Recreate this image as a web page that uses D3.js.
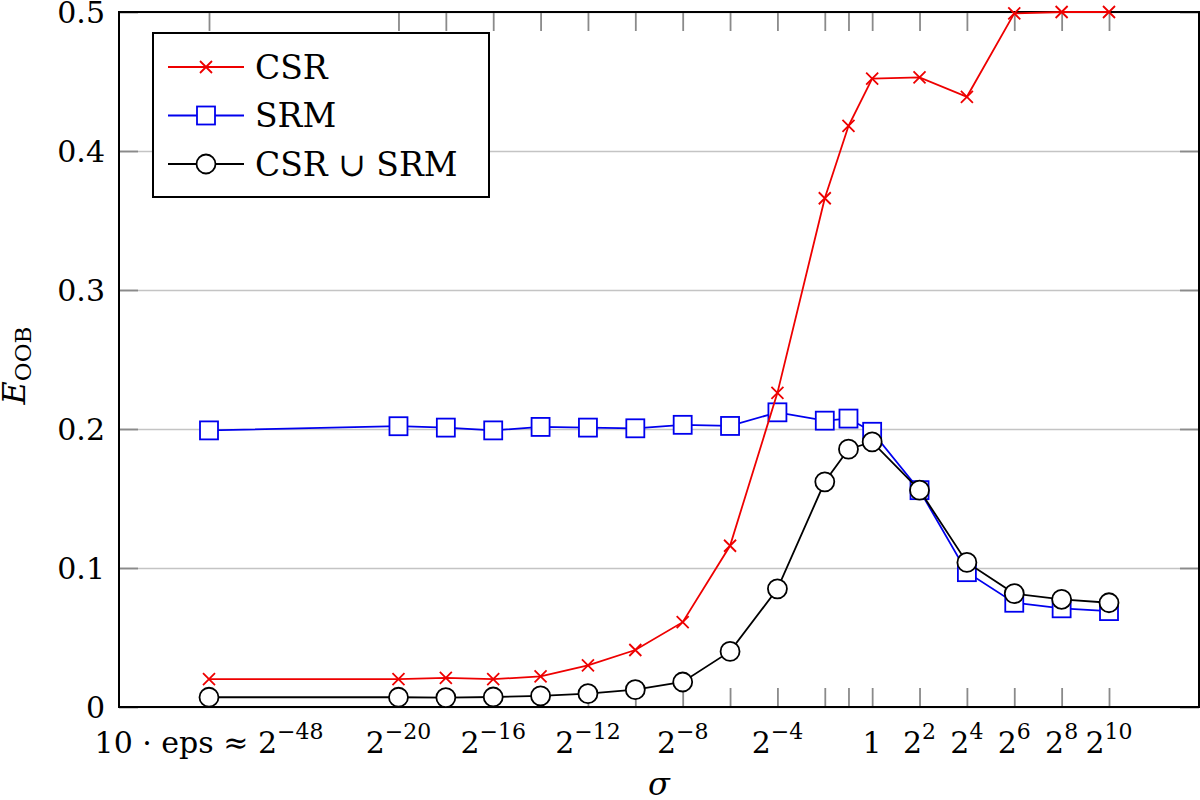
<!DOCTYPE html>
<html>
<head>
<meta charset="utf-8">
<script src="https://cdn.jsdelivr.net/npm/d3@7"></script>
<style>
  body { margin: 0; background: #fff; }
  svg text { fill: #000; }
</style>
</head>
<body>
<div id="chart"></div>
<script>
// log2(sigma) of each run; the first run (10*eps) is drawn squeezed in at -28
var sigmaPos = [-28, -20, -18, -16, -14, -12, -10, -8, -6, -4, -2, -1, 0, 2, 4, 6, 8, 10];

var csrErr = [0.020, 0.020, 0.021, 0.020, 0.022, 0.030, 0.041, 0.061, 0.116, 0.226,
              0.366, 0.418, 0.452, 0.453, 0.439, 0.499, 0.500, 0.500];
var srmErr = [0.199, 0.202, 0.201, 0.199, 0.2015, 0.201, 0.2005, 0.203, 0.2022, 0.212,
              0.206, 0.2075, 0.198, 0.156, 0.097, 0.075, 0.071, 0.069];
var unionErr = [0.007, 0.007, 0.0068, 0.0072, 0.008, 0.0096, 0.0125, 0.018, 0.040, 0.085,
                0.162, 0.1855, 0.1907, 0.156, 0.104, 0.0816, 0.0775, 0.075];

// labelled ticks on the x axis
var labelPos  = [-28, -20, -16, -12, -8, -4, 0, 2, 4, 6, 8, 10];
var labelBase = ["10 · eps ≈ 2", "2", "2", "2", "2", "2", "1", "2", "2", "2", "2", "2"];
var labelExp  = ["−48", "−20", "−16", "−12", "−8", "−4", "", "2", "4", "6", "8", "10"];

var yTicks = [0, 0.1, 0.2, 0.3, 0.4, 0.5];

var serif = "DejaVu Serif";

var margin = { top: 12, right: 1, bottom: 93, left: 119 };
var width = 1200 - margin.left - margin.right,
    height = 800 - margin.top - margin.bottom;

var svg = d3.select("#chart").append("svg")
    .attr("width", 1200)
    .attr("height", 800)
    .append("g")
    .attr("transform", "translate(" + margin.left + "," + margin.top + ")");

// pgfplots style: 10% enlargement of the x range
var x = d3.scaleLinear().domain([-31.8, 13.8]).range([0, width]);
var y = d3.scaleLinear().domain([0, 0.5]).range([height, 0]);

// horizontal grid
svg.append("g")
    .call(d3.axisLeft(y).tickValues(yTicks).tickSize(-width).tickFormat(""))
    .call(function(g) {
        g.select(".domain").remove();
        g.selectAll(".tick line").attr("stroke", "#c4c4c4").attr("stroke-width", 1.6);
    });

// inward tick marks on all four sides
function styleTicks(g) {
    g.select(".domain").remove();
    g.selectAll(".tick line").attr("stroke", "#8a8a8a").attr("stroke-width", 1.8);
}
svg.append("g")
    .attr("transform", "translate(0," + height + ")")
    .call(d3.axisBottom(x).tickValues(sigmaPos).tickSize(-19).tickFormat(""))
    .call(styleTicks);
svg.append("g")
    .call(d3.axisTop(x).tickValues(sigmaPos).tickSize(-19).tickFormat(""))
    .call(styleTicks);
svg.append("g")
    .call(d3.axisLeft(y).tickValues(yTicks).tickSize(-19).tickFormat(""))
    .call(styleTicks);
svg.append("g")
    .attr("transform", "translate(" + width + ",0)")
    .call(d3.axisRight(y).tickValues(yTicks).tickSize(-19).tickFormat(""))
    .call(styleTicks);

// frame
svg.append("rect")
    .attr("width", width)
    .attr("height", height)
    .attr("fill", "none")
    .attr("stroke", "#000")
    .attr("stroke-width", 2);

// y tick labels
svg.selectAll(".ylab")
    .data(yTicks)
    .enter().append("text")
    .attr("class", "ylab")
    .attr("x", -14)
    .attr("y", function(d) { return y(d); })
    .attr("dy", "0.36em")
    .attr("text-anchor", "end")
    .style("font-family", serif)
    .style("font-size", "30px")
    .text(function(d) { return String(d); });

// x tick labels with superscripts
var xl = svg.selectAll(".xlab")
    .data(labelPos)
    .enter().append("text")
    .attr("class", "xlab")
    .attr("x", function(d) { return x(d); })
    .attr("y", height + 46)
    .attr("text-anchor", "middle")
    .style("font-family", serif)
    .style("font-size", "30px");
xl.append("tspan").text(function(d, i) { return labelBase[i]; });
xl.append("tspan")
    .attr("dy", -14)
    .style("font-size", "22px")
    .text(function(d, i) { return labelExp[i]; });

// axis titles
svg.append("text")
    .attr("x", width / 2)
    .attr("y", height + 88)
    .attr("text-anchor", "middle")
    .style("font-family", serif)
    .style("font-size", "32px")
    .style("font-style", "italic")
    .text("σ");

var yt = svg.append("text")
    .attr("transform", "translate(" + (-94) + "," + (height / 2 + 6) + ") rotate(-90)")
    .attr("text-anchor", "middle")
    .style("font-family", serif)
    .style("font-size", "32px");
yt.append("tspan").style("font-style", "italic").text("E");
yt.append("tspan").attr("dy", 6).style("font-size", "23px").text("OOB");

// series
var series = [
    { name: "SRM", values: srmErr, color: "#0000ee", marker: "square" },
    { name: "CSR", values: csrErr, color: "#ee0000", marker: "cross" },
    { name: "CSR ∪ SRM", values: unionErr, color: "#000", marker: "circle" }
];

function drawMarker(sel, kind, color) {
    if (kind === "square") {
        sel.append("rect")
            .attr("x", -9).attr("y", -9)
            .attr("width", 18).attr("height", 18)
            .attr("fill", "#fff")
            .attr("stroke", color)
            .attr("stroke-width", 1.8);
    } else if (kind === "circle") {
        sel.append("circle")
            .attr("r", 9.5)
            .attr("fill", "#fff")
            .attr("stroke", color)
            .attr("stroke-width", 1.8);
    } else {
        sel.append("path")
            .attr("d", "M-6,-6L6,6M-6,6L6,-6")
            .attr("stroke", color)
            .attr("stroke-width", 1.8)
            .attr("fill", "none");
    }
}

series.forEach(function(s) {
    var pts = sigmaPos.map(function(p, i) { return [p, s.values[i]]; });
    var line = d3.line()
        .x(function(d) { return x(d[0]); })
        .y(function(d) { return y(d[1]); });
    svg.append("path")
        .datum(pts)
        .attr("d", line)
        .attr("fill", "none")
        .attr("stroke", s.color)
        .attr("stroke-width", 1.8);
    svg.append("g").selectAll("g")
        .data(pts)
        .enter().append("g")
        .attr("transform", function(d) { return "translate(" + x(d[0]) + "," + y(d[1]) + ")"; })
        .each(function() { drawMarker(d3.select(this), s.marker, s.color); });
});

// legend
var legendOrder = [series[1], series[0], series[2]];
var legend = svg.append("g").attr("transform", "translate(34,21)");
legend.append("rect")
    .attr("width", 336)
    .attr("height", 164)
    .attr("fill", "#fff")
    .attr("stroke", "#000")
    .attr("stroke-width", 2);
var items = legend.selectAll(".item")
    .data(legendOrder)
    .enter().append("g")
    .attr("class", "item")
    .attr("transform", function(d, i) { return "translate(0," + (34 + i * 48.5) + ")"; });
items.append("line")
    .attr("x1", 15).attr("x2", 91)
    .attr("stroke", function(d) { return d.color; })
    .attr("stroke-width", 1.8);
items.append("g")
    .attr("transform", "translate(53,0)")
    .each(function(d) { drawMarker(d3.select(this), d.marker, d.color); });
items.append("text")
    .attr("x", 102)
    .attr("dy", "0.36em")
    .style("font-family", serif)
    .style("font-size", "33px")
    .text(function(d) { return d.name; });
</script>
</body>
</html>
